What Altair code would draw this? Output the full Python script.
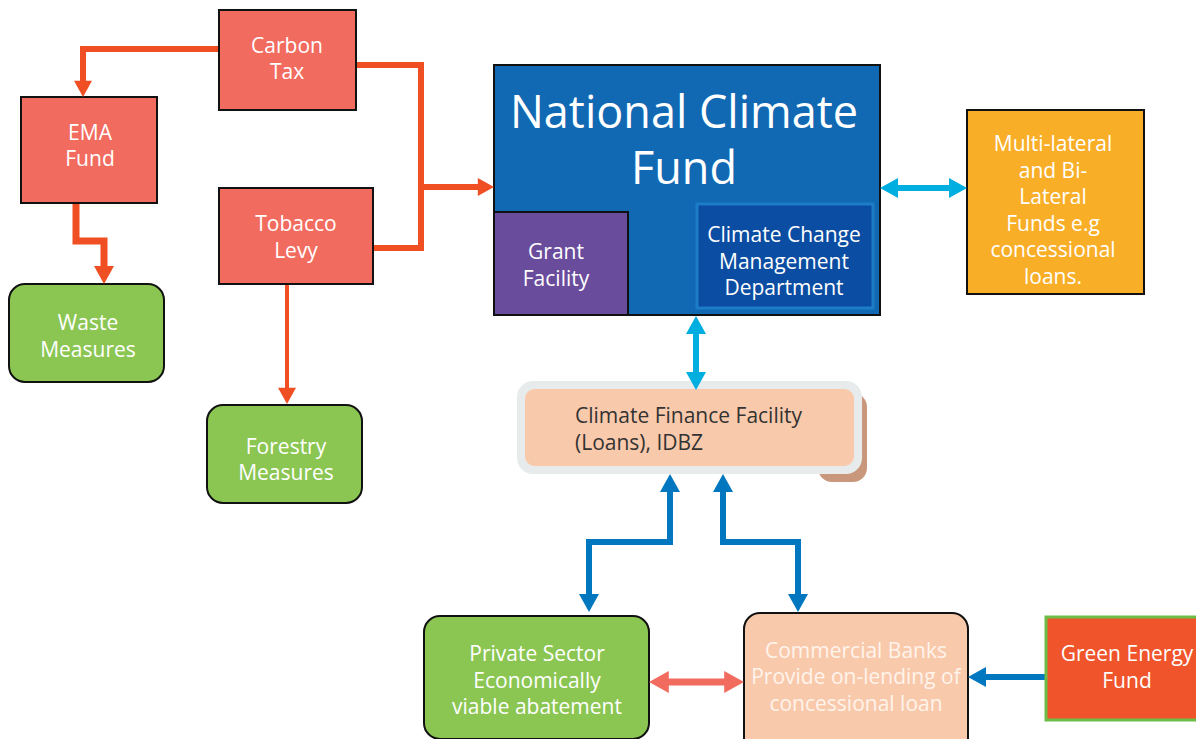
import altair as alt
import pandas as pd

FONT = "Open Sans"

# ---------------- boxes (screen-pixel coordinates) ----------------
sq_names = ["Carbon Tax", "EMA Fund", "Tobacco Levy", "National Climate Fund",
            "Grant Facility", "Climate Change Management Department",
            "Multi-lateral Funds", "Green Energy Fund"]
sq_x1 = [219, 21, 219, 494, 494, 697, 967, 1046]
sq_y1 = [10, 97, 188, 65, 212, 204, 110, 617]
sq_x2 = [356, 157, 373, 880, 628, 873, 1144, 1210]
sq_y2 = [110, 203, 284, 315, 315, 308, 294, 720]
sq_fill = ["#F26B5F", "#F26B5F", "#F26B5F", "#1169B3", "#6A4C9C", "#0B4DA2", "#F9AE28", "#F0542A"]
sq_stroke = ["#111111", "#111111", "#111111", "#111111", "#111111", "#1C7CC6", "#111111", "#6BBD47"]
sq_sw = [2, 2, 2, 2, 2, 3, 2, 3]

rd_names = ["Waste Measures", "Forestry Measures", "Private Sector", "Commercial Banks"]
rd_x1 = [9, 207, 424, 744]
rd_y1 = [284, 405, 616, 613]
rd_x2 = [164, 362, 649, 968]
rd_y2 = [382, 503, 739, 760]
rd_fill = ["#8BC653", "#8BC653", "#8BC653", "#F9C9AB"]

cff_part = ["shadow", "outer", "inner"]
cff_x1 = [818, 517, 525]
cff_y1 = [393, 381, 389]
cff_x2 = [867, 862, 854]
cff_y2 = [482, 474, 466]
cff_fill = ["#C9977B", "#E8EBEC", "#F9C9AB"]

# ---------------- connector paths ----------------
path_pts = {
    "carbon_ema":  [(219, 49), (83, 49), (83, 84)],
    "carbon_loop": [(356, 65), (421, 65), (421, 248), (373, 248)],
    "to_ncf":      [(421, 187), (482, 187)],
    "ema_waste":   [(76, 203), (76, 241), (104, 241), (104, 270)],
    "tob_forest":  [(287, 284), (287, 392)],
    "ncf_multi":   [(896, 188), (951, 188)],
    "ncf_cff":     [(696, 330), (696, 376)],
    "cff_private": [(670, 488), (670, 542), (589, 542), (589, 598)],
    "cff_banks":   [(723, 488), (723, 542), (798, 542), (798, 598)],
    "green_banks": [(1046, 677), (982, 677)],
    "priv_banks":  [(662, 682), (731, 682)],
}
path_color = {
    "carbon_ema": "#F04E23", "carbon_loop": "#F04E23", "to_ncf": "#F04E23",
    "ema_waste": "#F04E23", "tob_forest": "#F04E23",
    "ncf_multi": "#00AEDF", "ncf_cff": "#00AEDF",
    "cff_private": "#0077BF", "cff_banks": "#0077BF", "green_banks": "#0077BF",
    "priv_banks": "#F26B5F",
}
path_width = {
    "carbon_ema": 6, "carbon_loop": 6, "to_ncf": 6, "ema_waste": 7, "tob_forest": 4,
    "ncf_multi": 6, "ncf_cff": 6, "cff_private": 6, "cff_banks": 6,
    "green_banks": 6, "priv_banks": 7,
}

# arrow heads: tip x, tip y, direction, half width, colour
head_x = [83, 494, 104, 287, 880, 967, 696, 696, 670, 589, 723, 798, 968, 649, 744]
head_y = [97, 187, 284, 404, 188, 188, 316, 390, 474, 612, 474, 612, 677, 682, 682]
head_dir = ["down", "right", "down", "down", "left", "right", "up", "down",
            "up", "down", "up", "down", "left", "left", "right"]
head_hw = [9, 9, 10, 9, 10, 10, 10, 10, 10, 10, 10, 10, 10, 11, 11]
head_col = ["#F04E23"] * 4 + ["#00AEDF"] * 4 + ["#0077BF"] * 5 + ["#F26B5F"] * 2

# ---------------- labels ----------------
lab_text = ["Carbon\nTax", "EMA\nFund", "Tobacco\nLevy", "Waste\nMeasures",
            "Forestry\nMeasures", "National Climate\nFund", "Grant\nFacility",
            "Climate Change\nManagement\nDepartment",
            "Multi-lateral\nand Bi-\nLateral\nFunds e.g\nconcessional\nloans.",
            "Private Sector\nEconomically\nviable abatement",
            "Commercial Banks\nProvide on-lending of\nconcessional loan",
            "Green Energy\nFund"]
lab_x = [287, 90, 296, 88, 286, 684, 556, 784, 1053, 537, 856, 1127]
lab_y = [60, 147, 238.5, 337, 461, 141.5, 266, 262.5, 211.5, 681.5, 678, 668.5]
lab_fs = [21, 21, 21, 21, 21, 45, 21, 21, 21, 21, 21, 21]
lab_lh = [26.5, 26.5, 27, 27, 26.5, 56, 27, 26.5, 26.5, 26.5, 26.5, 26.5]
lab_col = ["#FFFFFF"] * 10 + ["#FFF4EC", "#FFFFFF"]

cff_text = ["Climate Finance Facility", "(Loans), IDBZ"]
cff_tx = [575, 575]
cff_ty = [416.5, 443.5]

# ---------------- build tables ----------------
sq = pd.DataFrame(dict(name=sq_names, x1=sq_x1, y1=sq_y1, x2=sq_x2, y2=sq_y2,
                       fill=sq_fill, stroke=sq_stroke, sw=sq_sw))
rd = pd.DataFrame(dict(name=rd_names, x1=rd_x1, y1=rd_y1, x2=rd_x2, y2=rd_y2,
                       fill=rd_fill))
cff = pd.DataFrame(dict(part=cff_part, x1=cff_x1, y1=cff_y1, x2=cff_x2, y2=cff_y2,
                        fill=cff_fill))

rows = []
for name, pts in path_pts.items():
    for i, (px, py) in enumerate(pts):
        rows.append(dict(path=name, o=i, x=px, y=py,
                         color=path_color[name], w=path_width[name]))
lines = pd.DataFrame(rows)

shapes = {
    "down": "M0,0L-1,-1.8L1,-1.8Z",
    "up": "M0,0L-1,1.8L1,1.8Z",
    "right": "M0,0L-1.8,-1L-1.8,1Z",
    "left": "M0,0L1.8,-1L1.8,1Z",
}
heads = pd.DataFrame(dict(x=head_x, y=head_y, shape=[shapes[d] for d in head_dir],
                          size=[(2 * h) ** 2 for h in head_hw], color=head_col))

trows = []
for t, cx, cy, fs, lh, c in zip(lab_text, lab_x, lab_y, lab_fs, lab_lh, lab_col):
    parts = t.split("\n")
    n = len(parts)
    for i, p in enumerate(parts):
        trows.append(dict(t=p, x=cx, y=cy + (i - (n - 1) / 2) * lh, fs=fs, color=c))
texts = pd.DataFrame(trows)
ctexts = pd.DataFrame(dict(t=cff_text, x=cff_tx, y=cff_ty))

# ---------------- scales ----------------
W, H = 1188, 731
xs = alt.Scale(domain=[8, 8 + W], nice=False, zero=False)
ys = alt.Scale(domain=[8, 8 + H], nice=False, zero=False, reverse=True)


def rect_layer(df, radius, stroke=True):
    enc = dict(
        x=alt.X("x1:Q", scale=xs, axis=None), x2="x2:Q",
        y=alt.Y("y1:Q", scale=ys, axis=None), y2="y2:Q",
        fill=alt.Fill("fill:N", scale=None),
    )
    if stroke:
        enc["stroke"] = alt.Stroke("stroke:N", scale=None)
        enc["strokeWidth"] = alt.StrokeWidth("sw:Q", scale=None)
    return alt.Chart(df).mark_rect(cornerRadius=radius).encode(**enc)


rd["stroke"] = "#111111"
rd["sw"] = 2

shadow = rect_layer(cff[cff.part == "shadow"], 14, stroke=False)
line_layer = alt.Chart(lines).mark_line(strokeCap="butt", strokeJoin="miter").encode(
    x=alt.X("x:Q", scale=xs, axis=None),
    y=alt.Y("y:Q", scale=ys, axis=None),
    order="o:Q",
    detail="path:N",
    color=alt.Color("color:N", scale=None),
    size=alt.Size("w:Q", scale=None),
)
sq_layer = rect_layer(sq, 0)
rd_layer = rect_layer(rd, 16)
outer = rect_layer(cff[cff.part == "outer"], 16, stroke=False)
inner = rect_layer(cff[cff.part == "inner"], 10, stroke=False)
head_layer = alt.Chart(heads).mark_point(filled=True, opacity=1, strokeWidth=0).encode(
    x=alt.X("x:Q", scale=xs, axis=None),
    y=alt.Y("y:Q", scale=ys, axis=None),
    shape=alt.Shape("shape:N", scale=None),
    size=alt.Size("size:Q", scale=None),
    color=alt.Color("color:N", scale=None),
)
text_layer = alt.Chart(texts).mark_text(font=FONT, baseline="middle", align="center").encode(
    x=alt.X("x:Q", scale=xs, axis=None),
    y=alt.Y("y:Q", scale=ys, axis=None),
    text="t:N",
    size=alt.Size("fs:Q", scale=None),
    color=alt.Color("color:N", scale=None),
)
ctext_layer = alt.Chart(ctexts).mark_text(font=FONT, baseline="middle", align="left",
                                          fontSize=21, color="#333333").encode(
    x=alt.X("x:Q", scale=xs, axis=None),
    y=alt.Y("y:Q", scale=ys, axis=None),
    text="t:N",
)

chart = alt.layer(shadow, line_layer, sq_layer, rd_layer, outer, inner,
                  head_layer, text_layer, ctext_layer).properties(
    width=W, height=H, padding=0, autosize="none", background="white"
).configure_view(strokeWidth=0)

chart.save("out.html", embed_options={"renderer": "svg", "actions": False})
